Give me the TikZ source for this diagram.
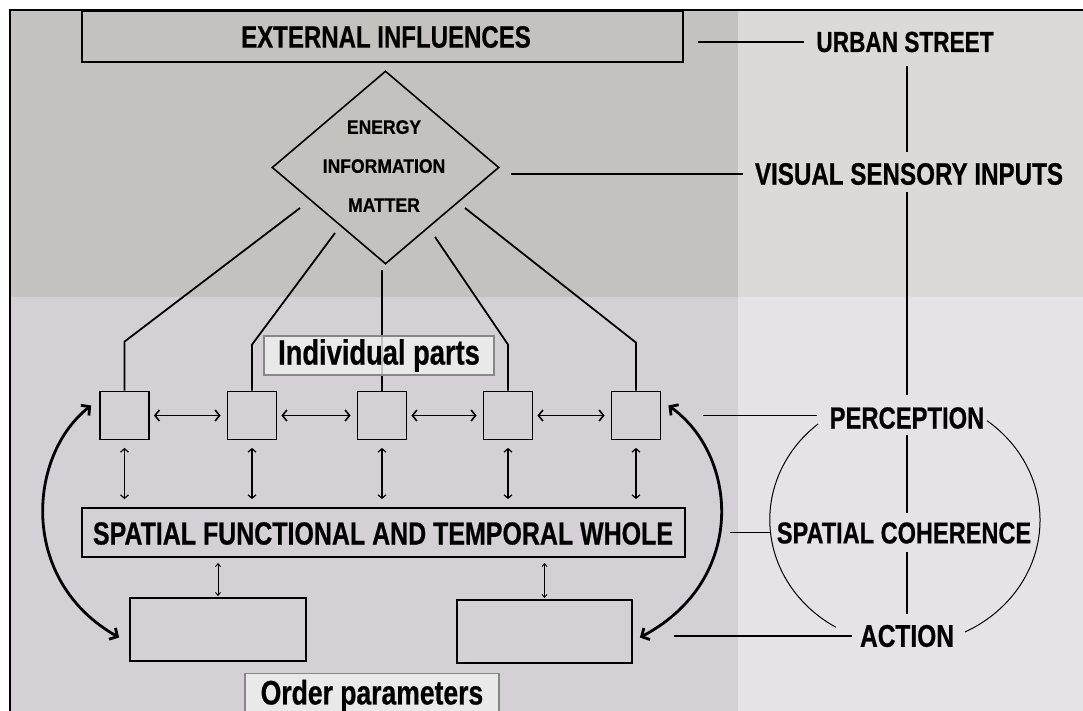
\documentclass[tikz,border=0pt]{standalone}
\usepackage{fontspec}
\newfontfamily\condfont[FakeStretch=0.78, FakeBold=0.6]{Liberation Sans Bold}
\newfontfamily\diafont[FakeStretch=0.9, FakeBold=0.5]{Liberation Sans Bold}
\usetikzlibrary{arrows.meta,shapes.geometric}

\definecolor{bgTL}{RGB}{196,193,190}
\definecolor{bgTR}{RGB}{220,218,217}
\definecolor{bgBL}{RGB}{213,208,214}
\definecolor{bgBR}{RGB}{230,227,231}
\definecolor{tagfill}{RGB}{240,240,240}
\definecolor{tagline}{RGB}{135,135,135}

\tikzset{
  frame/.style={draw=black, line width=1.8pt, inner sep=0pt},
  part/.style={frame, minimum width=49pt, minimum height=48pt},
  lab/.style={inner sep=2pt, font=\condfont\fontsize{30.5}{31}\selectfont},
  tag/.style={draw=tagline, line width=1.3pt, fill=tagfill, fill opacity=0.8, text opacity=1,
              inner sep=0pt, font=\condfont\fontsize{35}{36}\selectfont},
  wire/.style={line width=1.8pt},
  link/.style={line width=1.2pt},
  harrow/.style={line width=1.6pt,
                 {Straight Barb[length=4.5pt,width=11pt]}-{Straight Barb[length=4.5pt,width=11pt]}},
  varrow/.style={line width=1.2pt,
                 {Straight Barb[length=3.5pt,width=8pt]}-{Straight Barb[length=3.5pt,width=8pt]}},
  tarrow/.style={line width=0.9pt,
                 {Straight Barb[length=3pt,width=5pt]}-{Straight Barb[length=3pt,width=5pt]}},
  bigarrow/.style={line width=2.8pt,
                 {Straight Barb[length=6pt,width=13pt]}-{Straight Barb[length=6pt,width=13pt]}}
}

\begin{document}
\begin{tikzpicture}[x=1pt,y=-1pt]
\useasboundingbox (0,0) rectangle (1083,711);
\begin{scope}
\clip (0,0) rectangle (1083,711);

% background panels
\fill[white] (0,0) rectangle (1083,711);
\fill[bgTL] (10,10) rectangle (738,297);
\fill[bgTR] (738,10) rectangle (1083,297);
\fill[bgBL] (10,297) rectangle (738,711);
\fill[bgBR] (738,297) rectangle (1083,711);
\draw[line width=2.5pt] (1083,10) -- (10,10) -- (10,711);

% main boxes
\node[frame, minimum width=601pt, minimum height=51pt] (ext) at (382.5,36.5) {};
\node[font=\condfont\fontsize{30.8}{31}\selectfont] (exttxt) at (386,37) {EXTERNAL INFLUENCES};

\node[diamond, draw=black, line width=1.6pt, inner sep=0pt,
      minimum width=227pt, minimum height=193pt] (dia) at (385.5,167.5) {};
\node[align=center, inner sep=0pt, font=\diafont\fontsize{19.5}{39}\selectfont]
      (diatxt) at (384,166) {ENERGY\\INFORMATION\\MATTER};

% individual parts
\node[part] (p1) at (124.5,415.5) {};
\node[part] (p2) at (252,415.5) {};
\node[part] (p3) at (382,415.5) {};
\node[part] (p4) at (508,415.5) {};
\node[part] (p5) at (636,415.5) {};

% free ends of the feeds below the diamond
\coordinate (e1) at (300,208);
\coordinate (e2) at (335,233);
\coordinate (e3) at (382,270);
\coordinate (e4) at (435,237);
\coordinate (e5) at (465,208);

\draw[wire] (p1.north) -- ++(0,-49) -- (e1);
\draw[wire] (p2.north) -- ++(0,-46) -- (e2);
\draw[wire] (p3.north) -- (e3);
\draw[wire] (p4.north) -- ++(0,-46) -- (e4);
\draw[wire] (p5.north) -- ++(0,-48) -- (e5);

\node[tag, minimum width=230pt, minimum height=39pt] (indiv) at (379,355.5) {Individual parts};

% whole and order boxes
\node[frame, minimum width=603pt, minimum height=49pt] (whole) at (383.5,532.5) {};
\node[font=\condfont\fontsize{32}{33}\selectfont] (wholetxt) at (383,533.5)
      {SPATIAL FUNCTIONAL AND TEMPORAL WHOLE};
\node[frame, minimum width=176pt, minimum height=63pt] (low1) at (218,629.5) {};
\node[frame, minimum width=175pt, minimum height=63pt] (low2) at (544.5,631.5) {};
\node[tag, minimum width=254pt, minimum height=44pt, anchor=north,
      font=\condfont\fontsize{34}{35}\selectfont] (order) at (372,673) {Order parameters};

% arrows between parts
\foreach \a/\b in {p1/p2,p2/p3,p3/p4,p4/p5}
  \draw[harrow, shorten <=4pt, shorten >=6pt] (\a.east) -- (\b.west);
\foreach \p in {p1,p2,p3,p4,p5}
  \draw[varrow, shorten <=7.5pt, shorten >=8pt] (\p.south) -- (\p.south |- whole.north);
\draw[tarrow, shorten <=5pt, shorten >=1pt] (low1.north |- whole.south) -- (low1.north);
\draw[tarrow, shorten <=5pt, shorten >=1pt] (low2.north |- whole.south) -- (low2.north);

% feedback loops
\draw[bigarrow] ([shift={(-8,-10)}]p1.west) .. controls (28,455) and (18,580) .. ([shift={(-10,8)}]low1.west);
\draw[bigarrow] ([shift={(7,-10)}]p5.east) .. controls (738,455) and (748,580) .. ([shift={(7,6)}]low2.east);

% right column labels
\node[lab, font=\condfont\fontsize{29}{30}\selectfont] (urban) at (905,42) {URBAN STREET};
\node[lab, font=\condfont\fontsize{31}{32}\selectfont] (visual) at (909,174) {VISUAL SENSORY INPUTS};
\node[lab] (percep) at (907,418) {PERCEPTION};
\node[lab, font=\condfont\fontsize{30.2}{31}\selectfont] (scoh) at (904,533) {SPATIAL COHERENCE};
\node[lab, font=\condfont\fontsize{31.4}{32}\selectfont] (action) at (907,636) {ACTION};

% right column links
\draw[link, shorten <=14pt, shorten >=10pt] (urban.west -| ext.east) -- (urban.west);
\draw[link, shorten <=11pt, shorten >=10pt] (visual.west -| dia.east) -- (visual.west);
\draw[link, shorten <=12pt, shorten >=9pt] (percep.north |- urban.south) -- (percep.north |- visual.north);
\draw[link, shorten <=5pt, shorten >=10pt] (percep.north |- visual.south) -- (percep.north);
\draw[link, shorten <=4pt, shorten >=7pt] (percep.south) -- (percep.south |- scoh.north);
\draw[link, shorten <=6pt, shorten >=9pt] (percep.south |- scoh.south) -- (percep.south |- action.north);
\draw[link, shorten <=42pt, shorten >=10pt] (p5.east) -- (p5.east -| percep.west);
\draw[link, shorten <=44pt, shorten >=4pt] (whole.east) -- (whole.east -| scoh.west);
\draw[link, shorten <=41pt, shorten >=6pt] (action.west -| low2.east) -- (action.west);

% perception-action cycle
\draw[line width=1pt] (818,424) arc[start angle=230, end angle=120.7, x radius=135, y radius=125];
\draw[line width=1pt] (987,420.7) arc[start angle=-52.6, end angle=63.6, x radius=135, y radius=125];
\end{scope}
\end{tikzpicture}
\end{document}
